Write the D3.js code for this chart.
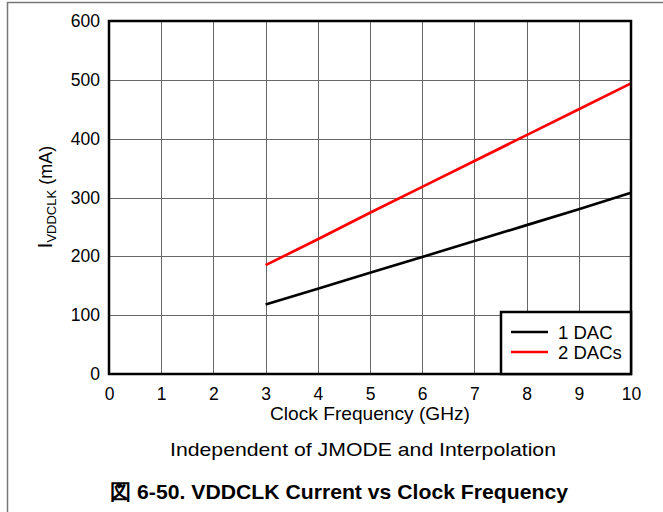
<!DOCTYPE html>
<html><head><meta charset="utf-8">
<script src="https://cdn.jsdelivr.net/npm/d3@7"></script>
<style>body{margin:0;background:#fff}svg{display:block;font-family:"Liberation Sans",Arial,sans-serif}</style>
</head><body><svg id="c" width="663" height="512"></svg>
<script>
const freqs = [3, 4, 5, 6, 7, 8, 9, 10];
const oneDac = [118, 145, 172, 199, 226, 253, 280, 308];
const twoDacs = [185, 229, 274, 318, 362, 406, 450, 494];
const xTicks = [0,1,2,3,4,5,6,7,8,9,10];
const yTicks = [0,100,200,300,400,500,600];
const seriesNames = ["1 DAC", "2 DACs"];
const seriesColors = ["#000000", "#ff0000"];

const svg = d3.select("#c");
const L = 109, R = 631, T = 21, B = 374;
const x = d3.scaleLinear().domain([0,10]).range([L,R]);
const y = d3.scaleLinear().domain([0,600]).range([B,T]);
const FF = "Liberation Sans, Arial, sans-serif";

// page frame
svg.append("line").attr("x1",7).attr("x2",663).attr("y1",2.5).attr("y2",2.5).attr("stroke","#777").attr("stroke-width",1.5);
svg.append("line").attr("x1",7.5).attr("x2",7.5).attr("y1",2).attr("y2",512).attr("stroke","#777").attr("stroke-width",1.5);

// grid
svg.append("g").selectAll("line").data(xTicks.slice(1,-1)).join("line")
  .attr("x1",d=>Math.round(x(d))+0.5).attr("x2",d=>Math.round(x(d))+0.5).attr("y1",T).attr("y2",B)
  .attr("stroke","#666").attr("stroke-width",1);
svg.append("g").selectAll("line").data(yTicks.slice(1,-1)).join("line")
  .attr("y1",d=>Math.round(y(d))+0.5).attr("y2",d=>Math.round(y(d))+0.5).attr("x1",L).attr("x2",R)
  .attr("stroke","#666").attr("stroke-width",1);

// axes (labels)
const xAxis = d3.axisBottom(x).tickValues(xTicks).tickSize(0).tickPadding(14).tickFormat(d3.format("d"));
const gx = svg.append("g").attr("transform",`translate(0,${B})`).call(xAxis);
gx.select(".domain").remove();
gx.selectAll("text").attr("font-size",17.5).attr("fill","#000").attr("font-family",FF);
const yAxis = d3.axisLeft(y).tickValues(yTicks).tickSize(0).tickPadding(9).tickFormat(d3.format("d"));
const gy = svg.append("g").attr("transform",`translate(${L},0)`).call(yAxis);
gy.select(".domain").remove();
gy.selectAll("text").attr("font-size",17.5).attr("fill","#000").attr("font-family",FF);

// lines
const data = [oneDac, twoDacs];
const line = d3.line().x((d,i)=>x(freqs[i])).y(d=>y(d));
data.forEach((s,k)=>{
  svg.append("path").datum(s).attr("d",line).attr("fill","none")
    .attr("stroke",seriesColors[k]).attr("stroke-width",2.7);
});

// frame
svg.append("rect").attr("x",L).attr("y",T).attr("width",R-L).attr("height",B-T)
  .attr("fill","none").attr("stroke","#000").attr("stroke-width",2.5);

// legend
const lg = svg.append("g");
lg.append("rect").attr("x",501).attr("y",312).attr("width",R-501).attr("height",B-312)
  .attr("fill","#fff").attr("stroke","#000").attr("stroke-width",2.5);
seriesNames.forEach((n,k)=>{
  const yy = 332 + k*20;
  lg.append("line").attr("x1",511).attr("x2",548).attr("y1",yy).attr("y2",yy)
    .attr("stroke",seriesColors[k]).attr("stroke-width",2.7);
  lg.append("text").attr("x",558).attr("y",yy+7).attr("font-size",18.5).text(n);
});

// axis titles
svg.append("text").attr("x",370).attr("y",420).attr("text-anchor","middle").attr("font-size",18.5)
  .attr("textLength",200).attr("lengthAdjust","spacingAndGlyphs").text("Clock Frequency (GHz)");
const yl = svg.append("text").attr("transform","translate(52,197) rotate(-90)").attr("text-anchor","middle").attr("font-size",18);
yl.append("tspan").attr("font-size",20).text("I");
yl.append("tspan").attr("font-size",13).attr("dy",4).text("VDDCLK");
yl.append("tspan").attr("dy",-4).text(" (mA)");

svg.append("text").attr("x",363).attr("y",456).attr("text-anchor","middle").attr("font-size",19)
  .attr("textLength",386).attr("lengthAdjust","spacingAndGlyphs").text("Independent of JMODE and Interpolation");
svg.append("text").attr("x",339).attr("y",499).attr("text-anchor","middle").attr("font-size",21).attr("font-weight","bold")
  .attr("textLength",458).attr("lengthAdjust","spacingAndGlyphs")
  .text("図 6-50. VDDCLK Current vs Clock Frequency");
</script></body></html>
